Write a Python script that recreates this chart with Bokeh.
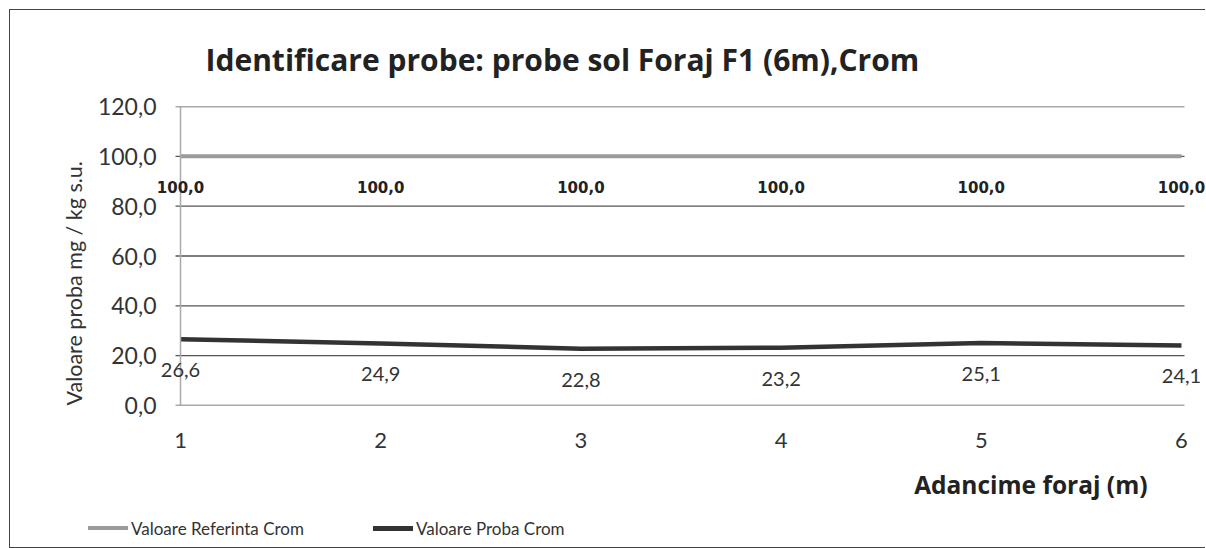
from bokeh.plotting import figure
from bokeh.layouts import column
from bokeh.models import (ColumnDataSource, Label, Title, Span, Div,
                          CustomJSTickFormatter, FixedTicker, Range1d)
from bokeh.embed import file_html
from bokeh.resources import INLINE

# ---- data ----
depth = [1, 2, 3, 4, 5, 6]
ref_values = [100.0, 100.0, 100.0, 100.0, 100.0, 100.0]
probe_values = [26.6, 24.9, 22.8, 23.2, 25.1, 24.1]
y_ticks = [0, 20, 40, 60, 80, 100, 120]
title_text = "Identificare probe: probe sol Foraj F1 (6m),Crom"
x_title = "Adancime foraj (m)"
y_title = "Valoare proba mg / kg s.u."
series_names = ["Valoare Referinta Crom", "Valoare Proba Crom"]

REF_COLOR = "#9b9b9b"
PROBE_COLOR = "#333333"
GRID_COLOR = "#555555"
FONT = "Lato"
PAD = 0.12          # room (in x units) so edge data labels are not clipped


def fmt(v):
    return f"{v:.1f}".replace(".", ",")


src = ColumnDataSource(dict(x=depth, ref=ref_values, probe=probe_values))
grid_src = ColumnDataSource(dict(
    x0=[depth[0] - 0.025] * len(y_ticks),
    x1=[depth[-1] + 0.015] * len(y_ticks),
    y=y_ticks,
))

p = figure(frame_width=1049, frame_height=299,
           output_backend="svg", toolbar_location=None,
           x_range=Range1d(depth[0] - PAD, depth[-1] + PAD),
           y_range=Range1d(y_ticks[0], y_ticks[-1]),
           min_border_left=146, min_border_right=0,
           min_border_top=95, min_border_bottom=112)
p.outline_line_color = None
p.background_fill_color = "white"
p.border_fill_color = "white"

# title
p.title.text = title_text
p.title.align = "left"
p.title.offset = 49
p.title.standoff = 53
p.title.text_font = "Open Sans"
p.title.text_font_size = "30px"
p.title.text_font_style = "bold"
p.title.text_color = "#222222"

# x axis
xa = p.xaxis[0]
xa.ticker = FixedTicker(ticks=depth)
xa.major_label_text_font = FONT
xa.major_label_text_font_size = "22px"
xa.major_label_text_color = "#333333"
xa.major_label_standoff = 27
xa.major_tick_out = 0
xa.major_tick_in = 0
xa.minor_tick_out = 0
xa.minor_tick_in = 0
xa.axis_line_color = None

# y axis
ya = p.yaxis[0]
ya.ticker = FixedTicker(ticks=y_ticks)
ya.formatter = CustomJSTickFormatter(code="return tick.toFixed(1).replace('.', ',');")
ya.major_label_text_font = FONT
ya.major_label_text_font_size = "23px"
ya.major_label_text_color = "#333333"
ya.major_label_standoff = 0
ya.major_tick_out = 0
ya.major_tick_in = 0
ya.minor_tick_out = 0
ya.minor_tick_in = 0
ya.axis_line_color = None

# y axis title as a side-panel title (vertical, starting at the bottom)
p.add_layout(Title(text=y_title, align="left", offset=0, standoff=15,
                   text_font=FONT, text_font_size="21.5px",
                   text_font_style="normal", text_color="#333333"), "left")

p.xgrid.visible = False
p.ygrid.visible = False

# horizontal gridlines spanning categories 1..6 (with small tick stubs on the left)
p.segment(x0="x0", x1="x1", y0="y", y1="y", source=grid_src,
          line_color=GRID_COLOR, line_width=1.3)
# vertical value-axis line at the first category
p.add_layout(Span(location=depth[0], dimension="height",
                  line_color="#aaaaaa", line_width=1.5))

# x axis title (right-aligned, as in the reference)
p.add_layout(Title(text=x_title, align="right", offset=58, standoff=31,
                   text_font="Open Sans", text_font_size="24.5px",
                   text_font_style="bold", text_color="#222222"), "below")

# series lines
p.line("x", "ref", source=src, line_color=REF_COLOR, line_width=4)
p.line("x", "probe", source=src, line_color=PROBE_COLOR, line_width=4.5)

# data labels
for xv, v in zip(depth, ref_values):
    p.add_layout(Label(x=xv, y=v, text=fmt(v), y_offset=-31,
                       text_align="center", text_baseline="middle",
                       text_font="DejaVu Sans", text_font_size="15px",
                       text_font_style="bold", text_color="#222222"))
for xv, v in zip(depth, probe_values):
    p.add_layout(Label(x=xv, y=v, text=fmt(v), y_offset=-31,
                       text_align="center", text_baseline="middle",
                       text_font=FONT, text_font_size="20px",
                       text_color="#333333"))

# legend strip below the chart
legend_html = (
    f'<div style="position:relative;width:1180px;height:20px;font-family:Lato;'
    f'font-size:17px;color:#333333;">'
    f'<span style="position:absolute;left:73px;top:4px;width:40px;height:4px;'
    f'background:{REF_COLOR}"></span>'
    f'<span style="position:absolute;left:116px;top:0px;line-height:13px;'
    f'white-space:nowrap">{series_names[0]}</span>'
    f'<span style="position:absolute;left:358px;top:4px;width:40px;height:4.5px;'
    f'background:{PROBE_COLOR}"></span>'
    f'<span style="position:absolute;left:401px;top:0px;line-height:13px;'
    f'white-space:nowrap">{series_names[1]}</span>'
    f'</div>'
)
legend_div = Div(text=legend_html, width=1185, height=20)

layout = column(p, legend_div, spacing=0,
                styles={"margin-left": "9px", "margin-top": "9px",
                        "border-left": "1.5px solid #444444",
                        "border-top": "1.5px solid #444444",
                        "border-bottom": "1.5px solid #444444",
                        "border-right": "none"})

open("out.html", "w").write(file_html(layout, INLINE))
